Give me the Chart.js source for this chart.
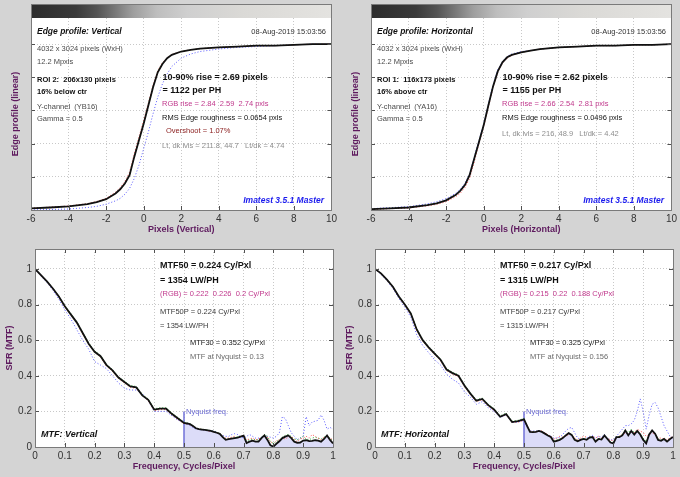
<!DOCTYPE html>
<html>
<head>
<meta charset="utf-8">
<script src="https://cdn.jsdelivr.net/npm/chart.js@4.4.0/dist/chart.umd.min.js"></script>
<style>
  html, body { margin: 0; padding: 0; background: #d4d4d4; }
  #wrap { position: relative; width: 680px; height: 477px; overflow: hidden; background: #d4d4d4; }
  canvas { position: absolute; }
</style>
</head>
<body>
<div id="wrap">
  <canvas id="edgeV" width="340" height="240" style="left:0px;top:0px;width:340px;height:240px"></canvas>
  <canvas id="edgeH" width="340" height="240" style="left:340px;top:0px;width:340px;height:240px"></canvas>
  <canvas id="mtfV" width="340" height="237" style="left:0px;top:240px;width:340px;height:237px"></canvas>
  <canvas id="mtfH" width="340" height="237" style="left:340px;top:240px;width:340px;height:237px"></canvas>
</div>
<script>
/******* Data *********/

// Edge profile: pixel positions and normalized levels
const edgeX = [-6, -5, -4, -3, -2.5, -2, -1.5, -1.25, -1, -0.75, -0.5, -0.25, 0, 0.25, 0.5, 0.75, 1, 1.25, 1.5, 2, 2.5, 3, 4, 5, 6, 7, 8, 9, 10];

const edgeVertY = [0.01, 0.015, 0.022, 0.035, 0.048, 0.065, 0.1, 0.125, 0.16, 0.21, 0.32, 0.42, 0.52, 0.63, 0.74, 0.83, 0.88, 0.915, 0.935, 0.955, 0.965, 0.972, 0.98, 0.985, 0.99, 0.99, 0.995, 1.0, 1.0];
const edgeVertR = [0.011, 0.017, 0.024, 0.038, 0.052, 0.07, 0.108, 0.135, 0.172, 0.228, 0.34, 0.44, 0.54, 0.645, 0.752, 0.84, 0.887, 0.918, 0.937, 0.955, 0.965, 0.972, 0.98, 0.985, 0.99, 0.99, 0.995, 1.0, 1.0];
const edgeVertG = [0.01, 0.015, 0.022, 0.036, 0.049, 0.066, 0.1, 0.126, 0.162, 0.215, 0.325, 0.425, 0.525, 0.635, 0.745, 0.835, 0.882, 0.916, 0.936, 0.955, 0.965, 0.972, 0.98, 0.985, 0.99, 0.99, 0.995, 1.0, 1.0];
const edgeVertB = [0.0, 0.003, 0.006, 0.015, 0.022, 0.035, 0.055, 0.07, 0.095, 0.13, 0.19, 0.27, 0.37, 0.47, 0.58, 0.68, 0.76, 0.82, 0.865, 0.915, 0.94, 0.955, 0.97, 0.98, 0.985, 0.99, 0.995, 1.0, 1.0];

const edgeHorY = [0.005, 0.01, 0.015, 0.03, 0.04, 0.058, 0.09, 0.115, 0.15, 0.21, 0.31, 0.41, 0.51, 0.63, 0.745, 0.835, 0.89, 0.92, 0.935, 0.95, 0.96, 0.97, 0.98, 0.985, 0.99, 0.99, 0.995, 0.995, 1.0];
const edgeHorR = [0.004, 0.008, 0.012, 0.025, 0.034, 0.05, 0.08, 0.1, 0.135, 0.19, 0.29, 0.4, 0.5, 0.62, 0.74, 0.83, 0.885, 0.915, 0.932, 0.95, 0.96, 0.97, 0.98, 0.985, 0.99, 0.99, 0.995, 0.995, 1.0];
const edgeHorG = [0.005, 0.01, 0.015, 0.03, 0.041, 0.059, 0.091, 0.116, 0.152, 0.212, 0.312, 0.412, 0.512, 0.632, 0.747, 0.836, 0.89, 0.92, 0.935, 0.95, 0.96, 0.97, 0.98, 0.985, 0.99, 0.99, 0.995, 0.995, 1.0];
const edgeHorB = [0.008, 0.014, 0.02, 0.037, 0.05, 0.068, 0.1, 0.125, 0.16, 0.22, 0.32, 0.42, 0.52, 0.64, 0.755, 0.845, 0.895, 0.925, 0.94, 0.955, 0.96, 0.97, 0.98, 0.985, 0.99, 0.99, 0.995, 0.995, 1.0];

// MTF: frequency (cycles/pixel) and response
const mtfFreq = [0, 0.02, 0.04, 0.06, 0.08, 0.1, 0.12, 0.14, 0.16, 0.18, 0.2, 0.22, 0.24, 0.26, 0.28, 0.3, 0.32, 0.34, 0.36, 0.38, 0.4, 0.42, 0.44, 0.46, 0.48, 0.5,
  0.51, 0.52, 0.53, 0.54, 0.55, 0.56, 0.57, 0.58, 0.59, 0.6, 0.61, 0.62, 0.63, 0.64, 0.65, 0.66, 0.67, 0.68, 0.69, 0.7,
  0.71, 0.72, 0.73, 0.74, 0.75, 0.76, 0.77, 0.78, 0.79, 0.8, 0.81, 0.82, 0.83, 0.84, 0.85, 0.86, 0.87, 0.88, 0.89, 0.9,
  0.91, 0.92, 0.93, 0.94, 0.95, 0.96, 0.97, 0.98, 0.99, 1.0];

const mtfVertY = [1.0, 0.965, 0.93, 0.89, 0.845, 0.79, 0.745, 0.7, 0.64, 0.58, 0.535, 0.51, 0.46, 0.43, 0.39, 0.365, 0.34, 0.335, 0.29, 0.265, 0.21, 0.215, 0.215, 0.185, 0.16, 0.135,
  0.132, 0.128, 0.118, 0.105, 0.1, 0.098, 0.096, 0.093, 0.09, 0.085, 0.08, 0.074, 0.055, 0.04, 0.044, 0.047, 0.05, 0.053, 0.058, 0.064,
  0.022, 0.03, 0.036, 0.03, 0.03, 0.05, 0.065, 0.04, 0.01, 0.002, 0.018, 0.032, 0.05, 0.058, 0.065, 0.05, 0.03, 0.024, 0.025, 0.036,
  0.038, 0.033, 0.034, 0.038, 0.036, 0.03, 0.045, 0.065, 0.04, 0.02];
const mtfVertR = [1.0, 0.962, 0.928, 0.888, 0.842, 0.788, 0.742, 0.695, 0.635, 0.578, 0.532, 0.505, 0.455, 0.425, 0.385, 0.36, 0.335, 0.33, 0.29, 0.26, 0.205, 0.21, 0.21, 0.18, 0.155, 0.13,
  0.13, 0.125, 0.115, 0.105, 0.1, 0.1, 0.095, 0.09, 0.088, 0.085, 0.08, 0.075, 0.06, 0.05, 0.05, 0.055, 0.06, 0.05, 0.06, 0.065,
  0.04, 0.045, 0.05, 0.04, 0.045, 0.05, 0.06, 0.055, 0.03, 0.02, 0.035, 0.04, 0.05, 0.045, 0.055, 0.06, 0.04, 0.03, 0.045, 0.05,
  0.06, 0.05, 0.07, 0.06, 0.05, 0.04, 0.055, 0.06, 0.05, 0.04];
const mtfVertG = [1.0, 0.966, 0.932, 0.892, 0.848, 0.795, 0.75, 0.705, 0.645, 0.585, 0.54, 0.515, 0.465, 0.435, 0.395, 0.37, 0.345, 0.34, 0.295, 0.27, 0.215, 0.22, 0.22, 0.19, 0.165, 0.14,
  0.135, 0.13, 0.12, 0.108, 0.102, 0.1, 0.098, 0.095, 0.092, 0.087, 0.082, 0.076, 0.06, 0.045, 0.048, 0.05, 0.055, 0.058, 0.06, 0.065,
  0.035, 0.04, 0.045, 0.04, 0.04, 0.055, 0.07, 0.06, 0.03, 0.02, 0.03, 0.04, 0.055, 0.065, 0.07, 0.06, 0.045, 0.04, 0.05, 0.06,
  0.045, 0.04, 0.05, 0.055, 0.05, 0.045, 0.055, 0.065, 0.05, 0.035];
const mtfVertB = [1.0, 0.96, 0.925, 0.88, 0.83, 0.77, 0.72, 0.66, 0.6, 0.55, 0.48, 0.46, 0.44, 0.4, 0.36, 0.33, 0.32, 0.32, 0.3, 0.26, 0.2, 0.2, 0.2, 0.175, 0.15, 0.14,
  0.13, 0.12, 0.11, 0.1, 0.1, 0.095, 0.095, 0.09, 0.09, 0.09, 0.085, 0.07, 0.065, 0.06, 0.06, 0.07, 0.075, 0.07, 0.06, 0.05,
  0.06, 0.07, 0.06, 0.05, 0.05, 0.055, 0.06, 0.06, 0.055, 0.05, 0.06, 0.08, 0.17, 0.16, 0.12, 0.08, 0.06, 0.04, 0.05, 0.06,
  0.17, 0.12, 0.14, 0.145, 0.15, 0.18, 0.15, 0.1, 0.11, 0.1];

const mtfHorY = [1.0, 0.975, 0.94, 0.9, 0.845, 0.8, 0.75, 0.66, 0.6, 0.56, 0.525, 0.49, 0.435, 0.415, 0.4, 0.345, 0.3, 0.26, 0.27, 0.235, 0.21, 0.17, 0.185, 0.14, 0.145, 0.155,
  0.12, 0.085, 0.084, 0.085, 0.09, 0.085, 0.075, 0.065, 0.056, 0.03, 0.035, 0.04, 0.05, 0.065, 0.078, 0.068, 0.04, 0.032, 0.04, 0.045,
  0.04, 0.053, 0.056, 0.03, 0.045, 0.042, 0.065, 0.045, 0.025, 0.02, 0.056, 0.056, 0.065, 0.093, 0.065, 0.09, 0.07, 0.09, 0.07, 0.04,
  0.02, 0.07, 0.093, 0.075, 0.04, 0.035, 0.045, 0.03, 0.045, 0.056];
const mtfHorR = [1.0, 0.973, 0.938, 0.897, 0.842, 0.797, 0.745, 0.655, 0.595, 0.555, 0.52, 0.485, 0.43, 0.41, 0.395, 0.34, 0.295, 0.255, 0.265, 0.23, 0.205, 0.17, 0.18, 0.14, 0.14, 0.15,
  0.115, 0.09, 0.085, 0.085, 0.09, 0.09, 0.08, 0.07, 0.06, 0.045, 0.05, 0.06, 0.055, 0.06, 0.07, 0.07, 0.05, 0.04, 0.05, 0.06,
  0.055, 0.05, 0.06, 0.05, 0.06, 0.05, 0.06, 0.05, 0.04, 0.035, 0.05, 0.06, 0.07, 0.08, 0.07, 0.085, 0.08, 0.1, 0.09, 0.08,
  0.06, 0.07, 0.08, 0.07, 0.05, 0.05, 0.045, 0.04, 0.05, 0.06];
const mtfHorG = [1.0, 0.976, 0.942, 0.902, 0.848, 0.802, 0.752, 0.665, 0.605, 0.565, 0.53, 0.495, 0.44, 0.42, 0.405, 0.35, 0.305, 0.265, 0.275, 0.24, 0.215, 0.175, 0.19, 0.145, 0.15, 0.16,
  0.12, 0.088, 0.086, 0.087, 0.09, 0.086, 0.078, 0.068, 0.058, 0.035, 0.04, 0.045, 0.055, 0.065, 0.075, 0.07, 0.045, 0.035, 0.042, 0.048,
  0.045, 0.055, 0.058, 0.035, 0.048, 0.045, 0.065, 0.05, 0.03, 0.025, 0.055, 0.06, 0.07, 0.095, 0.08, 0.1, 0.08, 0.09, 0.075, 0.05,
  0.03, 0.07, 0.09, 0.075, 0.045, 0.04, 0.045, 0.035, 0.045, 0.055];
const mtfHorB = [1.0, 0.97, 0.935, 0.89, 0.835, 0.785, 0.73, 0.63, 0.57, 0.53, 0.49, 0.46, 0.41, 0.38, 0.36, 0.31, 0.28, 0.24, 0.255, 0.22, 0.2, 0.165, 0.18, 0.14, 0.14, 0.15,
  0.11, 0.09, 0.09, 0.09, 0.09, 0.085, 0.075, 0.065, 0.06, 0.05, 0.05, 0.055, 0.07, 0.09, 0.105, 0.11, 0.08, 0.05, 0.045, 0.04,
  0.05, 0.06, 0.065, 0.05, 0.06, 0.055, 0.07, 0.05, 0.04, 0.04, 0.06, 0.08, 0.1, 0.12, 0.12, 0.13, 0.15, 0.2, 0.27, 0.2,
  0.1, 0.18, 0.24, 0.25, 0.22, 0.17, 0.12, 0.09, 0.06, 0.05];

// Nyquist frequency and height of its marker line
const nyquist = 0.5;
const nyquistMarkTop = 0.2;

// Tick values
const edgeXTicks = [-6, -4, -2, 0, 2, 4, 6, 8, 10];
const edgeYTicks = [0, 0.2, 0.4, 0.6, 0.8, 1];
const mtfXTicks = [0, 0.1, 0.2, 0.3, 0.4, 0.5, 0.6, 0.7, 0.8, 0.9, 1];
const mtfYTicks = [0, 0.2, 0.4, 0.6, 0.8, 1];

/******* Styles *********/

const FONT = '"Liberation Sans", Arial, sans-serif';
const fSmall = "7.5px " + FONT;
const fSmallBold = "bold 7.5px " + FONT;
const fBig = "bold 9px " + FONT;
const fTitle = "bold italic 8.5px " + FONT;
const fMtfTitle = "bold italic 9px " + FONT;
const axisTitleColor = "#5e1a5e";

// Grey levels of the edge image strip above the edge profile
const barStops = [
  [0, "#2c2c2c"], [0.15, "#3a3a3a"], [0.22, "#545454"], [0.28, "#787878"],
  [0.34, "#9e9e9e"], [0.42, "#bebebe"], [0.52, "#cfcfcf"], [0.7, "#dad9d6"], [1, "#e4e3e0"]
];

function pts(xs, ys) {
  return xs.map((x, i) => ({ x: x, y: ys[i] }));
}

function dotted(data, color) {
  return { data: data, borderColor: color, borderWidth: 1, borderDash: [1, 2], fill: false };
}

// Frame, inward ticks, image strip and text notes
function panelDecor(cfg) {
  return {
    id: "decor",
    beforeDraw(chart) {
      const ctx = chart.ctx, a = chart.chartArea;
      ctx.save();
      ctx.fillStyle = "#ffffff";
      ctx.fillRect(a.left, a.top, a.right - a.left, a.bottom - a.top);
      ctx.restore();
    },
    afterDraw(chart) {
      const ctx = chart.ctx, a = chart.chartArea;
      const xs = chart.scales.x, ys = chart.scales.y;
      ctx.save();
      let frameTop = a.top;
      if (cfg.bar) {
        frameTop = a.top - 14;
        const g = ctx.createLinearGradient(a.left, 0, a.right, 0);
        barStops.forEach((s) => g.addColorStop(s[0], s[1]));
        ctx.fillStyle = g;
        ctx.fillRect(a.left, frameTop, a.right - a.left, 14);
      }
      ctx.strokeStyle = "#505050";
      ctx.lineWidth = 1;
      ctx.beginPath();
      xs.ticks.forEach((t) => {
        const p = Math.round(xs.getPixelForValue(t.value)) + 0.5;
        ctx.moveTo(p, a.bottom);
        ctx.lineTo(p, a.bottom - 4);
        if (!cfg.bar) {
          ctx.moveTo(p, a.top);
          ctx.lineTo(p, a.top + 4);
        }
      });
      ys.ticks.forEach((t) => {
        const p = Math.round(ys.getPixelForValue(t.value)) + 0.5;
        ctx.moveTo(a.left, p);
        ctx.lineTo(a.left + 4, p);
        ctx.moveTo(a.right, p);
        ctx.lineTo(a.right - 4, p);
      });
      ctx.stroke();
      ctx.strokeStyle = "#7a7a7a";
      ctx.strokeRect(Math.round(a.left) + 0.5, Math.round(frameTop) + 0.5,
        Math.round(a.right - a.left), Math.round(a.bottom - frameTop));
      cfg.notes.forEach((n) => {
        ctx.font = n[3];
        ctx.fillStyle = n[4];
        ctx.textAlign = n[5] || "left";
        ctx.textBaseline = "middle";
        ctx.fillText(n[0], n[1], n[2]);
      });
      ctx.restore();
    },
  };
}

function makeChart(cfg) {
  const canvas = document.getElementById(cfg.id);
  const scaleFont = { family: FONT, size: 10 };
  const titleFont = { family: FONT, size: 9, weight: "bold" };
  return new Chart(canvas.getContext("2d"), {
    type: "line",
    data: { datasets: cfg.datasets },
    options: {
      responsive: false,
      animation: false,
      events: [],
      layout: { padding: { top: cfg.top, right: 7, left: 0, bottom: 0 } },
      plugins: { legend: { display: false }, tooltip: { enabled: false } },
      elements: { point: { radius: 0 }, line: { tension: 0 } },
      scales: {
        x: {
          type: "linear",
          min: cfg.xMin,
          max: cfg.xMax,
          afterBuildTicks: (s) => { s.ticks = cfg.xTicks.map((v) => ({ value: v })); },
          afterFit: (s) => { s.height = 30; },
          grid: { color: "#c8c8c8", drawTicks: false },
          border: { display: false, dash: [1, 2] },
          ticks: { color: "#333", font: scaleFont, padding: 3, maxRotation: 0, autoSkip: false, callback: (v) => String(v) },
          title: { display: true, text: cfg.xTitle, color: axisTitleColor, font: titleFont, padding: { top: 0, bottom: 5 } },
        },
        y: {
          type: "linear",
          min: 0,
          max: cfg.yMax,
          afterBuildTicks: (s) => { s.ticks = cfg.yTicks.map((v) => ({ value: v })); },
          afterFit: (s) => { s.width = cfg.yWidth; },
          grid: { color: "#c8c8c8", drawTicks: false },
          border: { display: false, dash: [1, 2] },
          ticks: { display: cfg.yLabels, color: "#333", font: scaleFont, padding: 3, callback: (v) => String(v) },
          title: { display: true, text: cfg.yTitle, color: axisTitleColor, font: titleFont, padding: { top: cfg.yTitlePad, bottom: 0 } },
        },
      },
    },
    plugins: [panelDecor(cfg)],
  });
}

/******* Edge profile panels *********/

function edgeDatasets(yy, rr, gg, bb) {
  return [
    { data: pts(edgeX, yy), borderColor: "#111111", borderWidth: 1.8, fill: false },
    dotted(pts(edgeX, rr), "#ff5050"),
    dotted(pts(edgeX, gg), "#30b030"),
    dotted(pts(edgeX, bb), "#5a5aff"),
  ];
}

const edgeNotesCommon = [
  ["08-Aug-2019 15:03:56", 326, 31.5, fSmall, "#333", "right"],
  ["4032 x 3024 pixels (WxH)", 37, 49, fSmall, "#4a4a4a"],
  ["12.2 Mpxls", 37, 62, fSmall, "#4a4a4a"],
  ["Gamma = 0.5", 37, 119, fSmall, "#4a4a4a"],
  ["Imatest 3.5.1 Master", 324, 201, fTitle, "#1a1aee", "right"],
];

makeChart({
  id: "edgeV", top: 18, bar: true, yWidth: 31, yMax: 1.157, yLabels: false, yTitlePad: 10.5,
  xMin: -6, xMax: 10, xTicks: edgeXTicks, yTicks: edgeYTicks,
  xTitle: "Pixels (Vertical)", yTitle: "Edge profile (linear)",
  datasets: edgeDatasets(edgeVertY, edgeVertR, edgeVertG, edgeVertB),
  notes: edgeNotesCommon.concat([
    ["Edge profile: Vertical", 37, 31.5, fTitle, "#111"],
    ["ROI 2:  206x130 pixels", 37, 80, fSmallBold, "#111"],
    ["16% below ctr", 37, 92, fSmallBold, "#111"],
    ["Y-channel  (YB16)", 37, 107, fSmall, "#4a4a4a"],
    ["10-90% rise = 2.69 pixels", 162.5, 78, fBig, "#111"],
    ["= 1122 per PH", 162.5, 90.5, fBig, "#111"],
    ["RGB rise = 2.84  2.59  2.74 pxls", 162, 104, fSmall, "#c0388c"],
    ["RMS Edge roughness = 0.0654 pxls", 162, 118, fSmall, "#111"],
    ["Overshoot = 1.07%", 166, 131, fSmall, "#8c2020"],
    ["Lt, dk lvls = 211.8, 44.7   Lt/dk = 4.74", 162, 146, fSmall, "#8e8e8e"],
  ]),
});

makeChart({
  id: "edgeH", top: 18, bar: true, yWidth: 31, yMax: 1.157, yLabels: false, yTitlePad: 10.5,
  xMin: -6, xMax: 10, xTicks: edgeXTicks, yTicks: edgeYTicks,
  xTitle: "Pixels (Horizontal)", yTitle: "Edge profile (linear)",
  datasets: edgeDatasets(edgeHorY, edgeHorR, edgeHorG, edgeHorB),
  notes: edgeNotesCommon.concat([
    ["Edge profile: Horizontal", 37, 31.5, fTitle, "#111"],
    ["ROI 1:  116x173 pixels", 37, 80, fSmallBold, "#111"],
    ["16% above ctr", 37, 92, fSmallBold, "#111"],
    ["Y-channel  (YA16)", 37, 107, fSmall, "#4a4a4a"],
    ["10-90% rise = 2.62 pixels", 162.5, 78, fBig, "#111"],
    ["= 1155 per PH", 162.5, 90.5, fBig, "#111"],
    ["RGB rise = 2.66  2.54  2.81 pxls", 162, 104, fSmall, "#c0388c"],
    ["RMS Edge roughness = 0.0496 pxls", 162, 118, fSmall, "#111"],
    ["Lt, dk lvls = 216, 48.9   Lt/dk = 4.42", 162, 134, fSmall, "#8e8e8e"],
  ]),
});

/******* MTF panels *********/

function mtfDatasets(yy, rr, gg, bb) {
  const above = pts(mtfFreq, yy).filter((p) => p.x >= nyquist);
  return [
    { data: pts(mtfFreq, yy), borderColor: "#111111", borderWidth: 1.8, fill: false },
    dotted(pts(mtfFreq, rr), "#ff5050"),
    dotted(pts(mtfFreq, gg), "#30b030"),
    dotted(pts(mtfFreq, bb), "#5a5aff"),
    { data: [{ x: nyquist, y: 0 }, { x: nyquist, y: nyquistMarkTop }], borderColor: "#7070d8", borderWidth: 1.5, fill: false },
    { data: above, borderColor: "rgba(0,0,0,0)", borderWidth: 0, backgroundColor: "#dcdcf8", fill: "origin" },
  ];
}

function mtfNotes(m50, lw, rgb, m50p, m30, nyq, title) {
  return [
    ["MTF50 = " + m50 + " Cy/Pxl", 160, 26, fBig, "#111"],
    ["= " + lw + " LW/PH", 160, 41, fBig, "#111"],
    ["(RGB) = " + rgb + " Cy/Pxl", 160, 54, fSmall, "#c0388c"],
    ["MTF50P = " + m50p + " Cy/Pxl", 160, 72, fSmall, "#3a3a3a"],
    ["= " + lw + " LW/PH", 160, 86, fSmall, "#3a3a3a"],
    ["MTF30 = " + m30 + " Cy/Pxl", 190, 103, fSmall, "#1a1a1a"],
    ["MTF at Nyquist = " + nyq, 190, 117, fSmall, "#6a6a6a"],
    ["Nyquist freq.", 186, 172, fSmall, "#6a6ad0"],
    [title, 41, 195, fMtfTitle, "#111"],
  ];
}

makeChart({
  id: "mtfV", top: 3, bar: false, yWidth: 35, yMax: 1.112, yLabels: true, yTitlePad: 4.5,
  xMin: 0, xMax: 1, xTicks: mtfXTicks, yTicks: mtfYTicks,
  xTitle: "Frequency, Cycles/Pixel", yTitle: "SFR (MTF)",
  datasets: mtfDatasets(mtfVertY, mtfVertR, mtfVertG, mtfVertB),
  notes: mtfNotes("0.224", "1354", "0.222  0.226  0.2", "0.224", "0.352", "0.13", "MTF: Vertical"),
});

makeChart({
  id: "mtfH", top: 3, bar: false, yWidth: 35, yMax: 1.112, yLabels: true, yTitlePad: 4.5,
  xMin: 0, xMax: 1, xTicks: mtfXTicks, yTicks: mtfYTicks,
  xTitle: "Frequency, Cycles/Pixel", yTitle: "SFR (MTF)",
  datasets: mtfDatasets(mtfHorY, mtfHorR, mtfHorG, mtfHorB),
  notes: mtfNotes("0.217", "1315", "0.215  0.22  0.188", "0.217", "0.325", "0.156", "MTF: Horizontal"),
});
</script>
</body>
</html>
